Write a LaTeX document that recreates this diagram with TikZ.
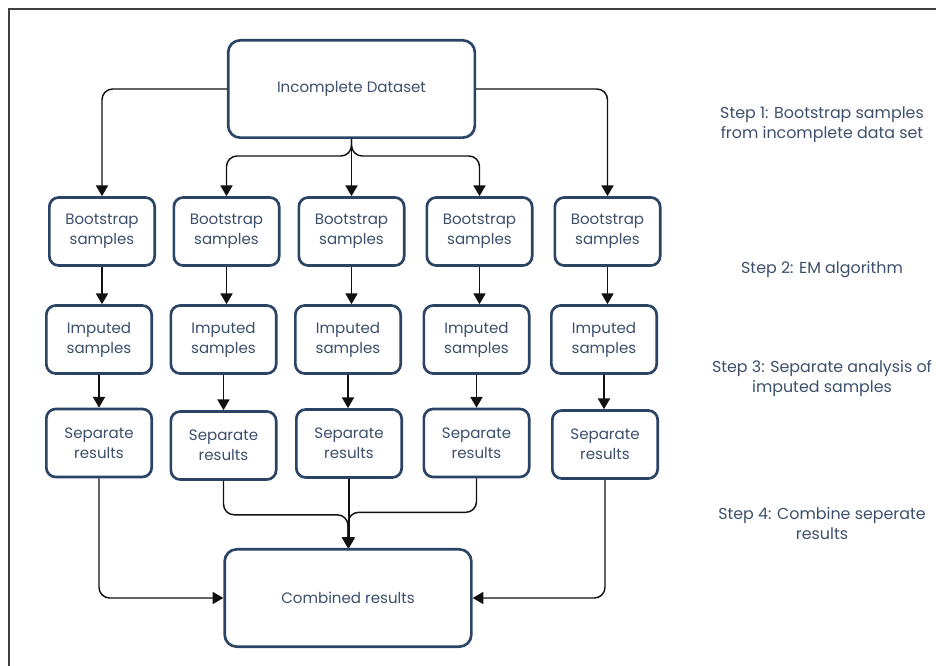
\documentclass[tikz,border=0pt]{standalone}
\usepackage{fontspec}
\setmainfont{Poppins}
\usepackage{tikz}
\usetikzlibrary{arrows.meta, positioning, calc}

\definecolor{boxline}{HTML}{2B4466}
\definecolor{boxtext}{HTML}{3D4F6B}
\definecolor{wire}{HTML}{111111}

\begin{document}
\begin{tikzpicture}[x=0.75pt, y=-0.75pt,
    stage/.style={draw=boxline, line width=2pt, rounded corners=7pt, fill=white, text=boxtext, align=center,
        minimum width=79pt, minimum height=51pt, inner sep=0pt, font=\fontsize{11.3}{15}\selectfont},
    bigstage/.style={stage, rounded corners=9pt, minimum width=185pt, minimum height=73pt},
    steplabel/.style={text=boxtext, align=center, font=\fontsize{11.9}{15}\selectfont},
    flow/.style={draw=wire, line width=1.1pt, rounded corners=8pt, -{Triangle[length=8pt,width=9pt]}}]

    \useasboundingbox (0,0) rectangle (936,666);

    % Frame
    \draw[line width=1.5pt, black!75] (9,666) -- (9,9) -- (936,9);

    % Data set and result
    \node[bigstage] (ds) at (351.5,89) {Incomplete Dataset};
    \node[bigstage] (cr) at (348,598) {Combined results};

    % Bootstrap row
    \foreach \i/\x in {1/102,2/226.5,3/351.5,4/479.5,5/607.5} {
        \node[stage] (b\i) at (\x,231.5) {Bootstrap\\samples};
    }

    % Imputed row
    \foreach \i/\x in {1/99,2/223.5,3/348,4/476.5,5/604} {
        \node[stage] (im\i) at (\x,339.5) {Imputed\\samples};
    }

    % Separate results row
    \foreach \i/\x/\y in {1/99/443,2/223.5/445.5,3/349/443.5,4/476.5/443,5/605/444.5} {
        \node[stage] (sr\i) at (\x,\y) {Separate\\results};
    }

    % Step labels
    \node[steplabel] (step1) at (822,125) {Step 1: Bootstrap samples\\from incomplete data set};
    \node[steplabel] (step2) at (822,270) {Step 2: EM algorithm};
    \node[steplabel] (step3) at (822,379) {Step 3: Separate analysis of\\imputed samples};
    \node[steplabel] (step4) at (822,524) {Step 4: Combine seperate\\results};

    % Sampling
    \draw[flow] (ds.west) -| (b1.north);
    \draw[flow] (ds.east) -| (b5.north);
    \draw[flow] (ds.south) -- (ds.south |- b3.north);
    \draw[flow] (ds.south) -- ++(0,17) -| (b2.north);
    \draw[flow] (ds.south) -- ++(0,17) -| (b4.north);

    % Imputation and analysis
    \foreach \i in {1,...,5} {
        \draw[flow] (b\i.south) -- (b\i.south |- im\i.north);
        \draw[flow] (im\i.south) -- (im\i.south |- sr\i.north);
    }

    % Pooling
    \draw[flow] (sr1.south) |- (cr.west);
    \draw[flow] (sr5.south) |- (cr.east);
    \draw[flow] (sr3.south) -- (sr3.south |- cr.north);
    \draw[flow] (sr2.south) -- ++(0,34) -| (cr.north);
    \draw[flow] (sr4.south) -- ++(0,34) -| (cr.north);

\end{tikzpicture}
\end{document}
